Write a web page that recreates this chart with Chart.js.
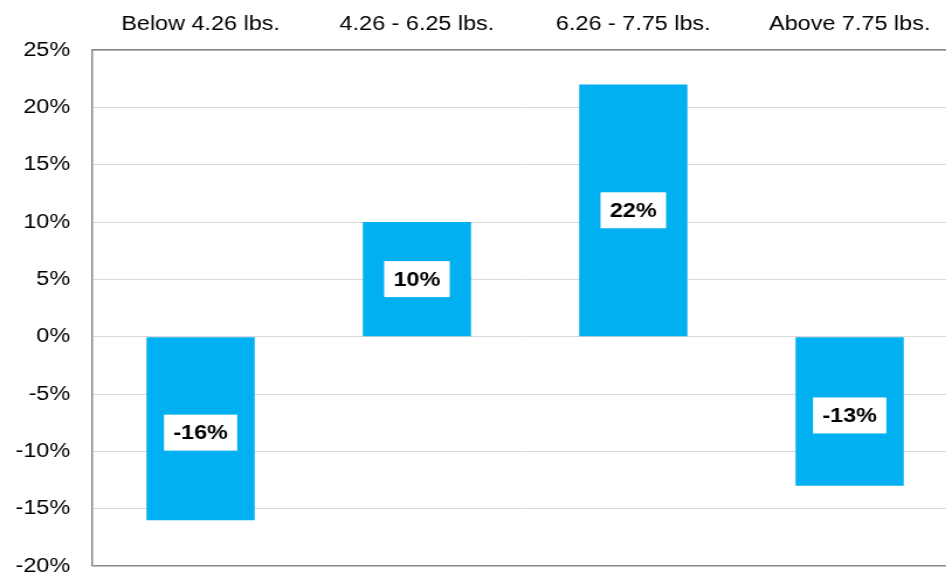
<!DOCTYPE html>
<html>
<head>
<meta charset="utf-8">
<script src="https://cdn.jsdelivr.net/npm/chart.js@4.4.1/dist/chart.umd.min.js"></script>
<style>
  html, body { margin: 0; padding: 0; background: #fff; }
  #wrap { width: 946px; height: 575px; overflow: hidden; position: relative; }
  #chart { position: absolute; left: 0; top: 0; }
</style>
</head>
<body>
<div id="wrap">
  <!-- reference is stretched horizontally, so the canvas is too (inline style so Chart.js keeps it) -->
  <canvas id="chart" width="820" height="600" style="width:959.4px;height:600px"></canvas>
</div>
<script>
// ── DATA ──
const categories = ['Below 4.26 lbs.', '4.26 - 6.25 lbs.', '6.26 - 7.75 lbs.', 'Above 7.75 lbs.'];
const changePct = [-16, 10, 22, -13];
const yMin = -20;
const yMax = 25;
const yStep = 5;

const FONT = "'Liberation Sans', Arial, sans-serif";

// white boxed value labels centred in each bar
const boxLabels = {
    id: 'boxLabels',
    afterDatasetsDraw(chart) {
        const ctx = chart.ctx;
        const meta = chart.getDatasetMeta(0);
        ctx.save();
        ctx.font = 'bold 20px ' + FONT;
        ctx.textAlign = 'center';
        ctx.textBaseline = 'middle';
        meta.data.forEach((bar, i) => {
            const txt = changePct[i] + '%';
            const w = ctx.measureText(txt).width + 16;
            const h = 36;
            const cy = (bar.y + bar.base) / 2 + (changePct[i] < 0 ? 4 : 0);
            ctx.fillStyle = '#ffffff';
            ctx.fillRect(bar.x - w / 2, cy - h / 2, w, h);
            ctx.fillStyle = '#000000';
            ctx.fillText(txt, bar.x, cy + 1);
        });
        ctx.restore();
    }
};

new Chart(document.getElementById('chart').getContext('2d'), {
    type: 'bar',
    data: {
        labels: categories,
        datasets: [{
            data: changePct,
            backgroundColor: '#00B0F0',
            borderWidth: 0,
            categoryPercentage: 1,
            barPercentage: 0.5
        }]
    },
    options: {
        responsive: false,
        animation: false,
        layout: { padding: { top: 0, left: 0, right: 1, bottom: 34 } },
        scales: {
            x: {
                position: 'top',
                grid: { display: false, drawTicks: false },
                border: { color: '#868686', width: 1.5 },
                ticks: { color: '#000', padding: 14, font: { family: FONT, size: 20 } },
                afterFit: s => { s.height = 50; }
            },
            y: {
                min: yMin, max: yMax,
                grid: {
                    drawTicks: false,
                    color: c => (c.tick && c.tick.value === yMin) ? '#868686' : '#d9d9d9',
                    lineWidth: c => (c.tick && c.tick.value === yMin) ? 1.5 : 1
                },
                border: { color: '#868686', width: 1.5 },
                ticks: {
                    stepSize: yStep,
                    color: '#000',
                    padding: 19,
                    font: { family: FONT, size: 20 },
                    callback: v => v + '%'
                },
                afterFit: s => { s.width = 79; }
            }
        },
        plugins: {
            legend: { display: false },
            tooltip: { enabled: false }
        }
    },
    plugins: [boxLabels]
});
</script>
</body>
</html>
